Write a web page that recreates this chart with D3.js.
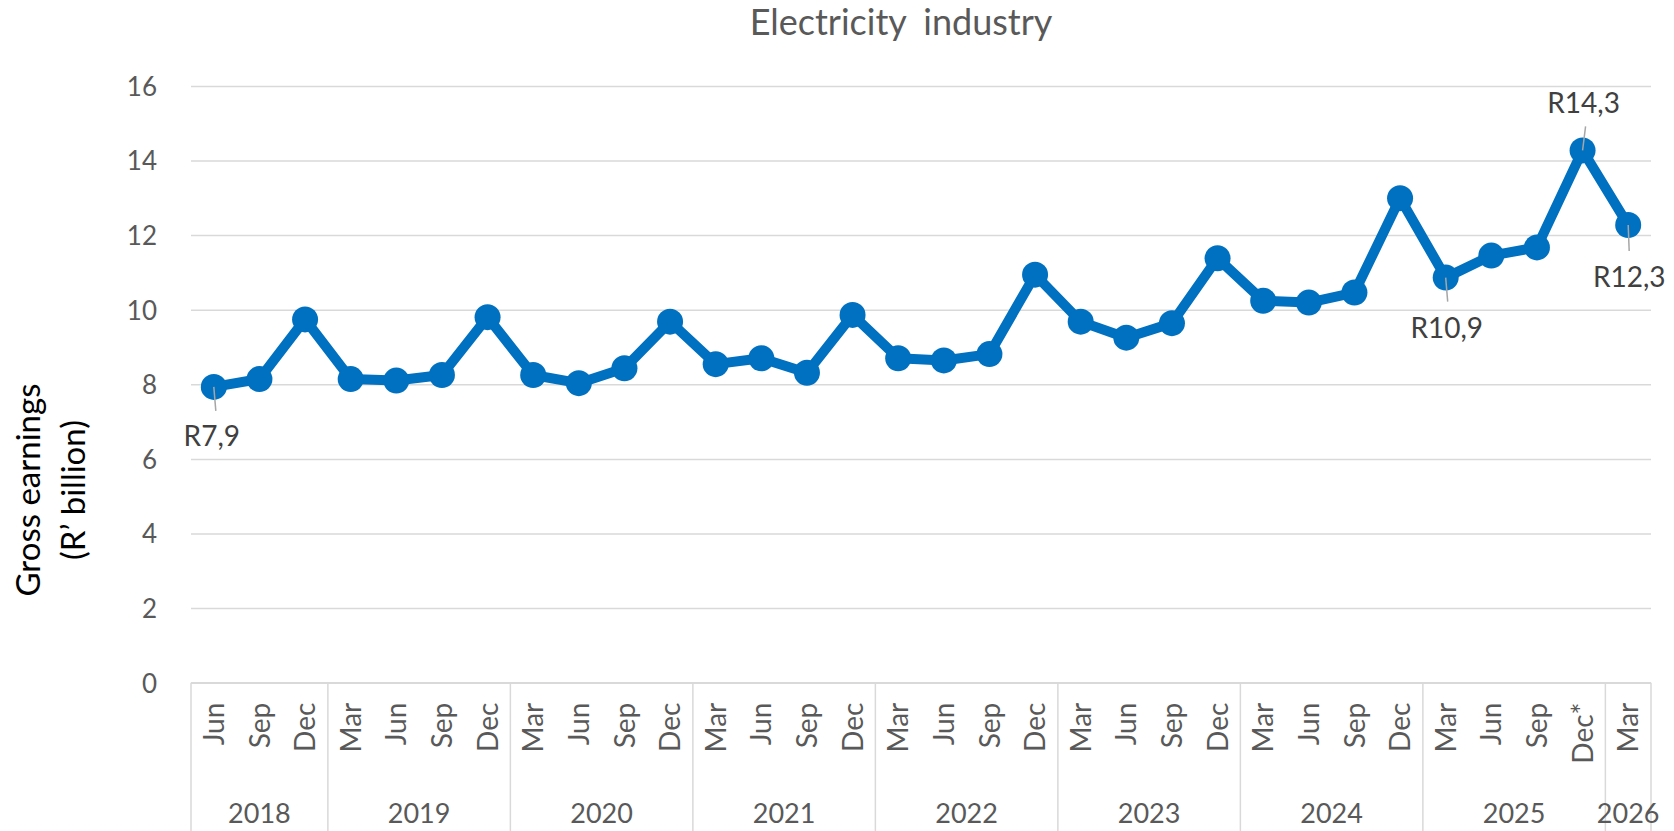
<!DOCTYPE html>
<html>
<head>
<meta charset="utf-8">
<script src="https://cdn.jsdelivr.net/npm/d3@7"></script>
<style>
  body { margin: 0; background: #fff; }
  svg { display: block; font-family: Lato, "Open Sans", sans-serif; }
</style>
</head>
<body>
<div id="chart"></div>
<script>
// Chart values
const months = ["Jun", "Sep", "Dec",
    "Mar", "Jun", "Sep", "Dec",
    "Mar", "Jun", "Sep", "Dec",
    "Mar", "Jun", "Sep", "Dec",
    "Mar", "Jun", "Sep", "Dec",
    "Mar", "Jun", "Sep", "Dec",
    "Mar", "Jun", "Sep", "Dec",
    "Mar", "Jun", "Sep", "Dec*",
    "Mar"];
const yearLabels = ["2018", "2019", "2020", "2021", "2022", "2023", "2024", "2025", "2026"];
const monthsPerYear = [3, 4, 4, 4, 4, 4, 4, 4, 1];
const earnings = [7.93, 8.14, 9.74,
    8.14, 8.10, 8.25, 9.80,
    8.25, 8.03, 8.43, 9.68,
    8.54, 8.70, 8.31, 9.86,
    8.70, 8.64, 8.81, 10.94,
    9.68, 9.25, 9.64, 11.38,
    10.24, 10.19, 10.46, 12.99,
    10.86, 11.45, 11.67, 14.27,
    12.27];
const yTicks = [0, 2, 4, 6, 8, 10, 12, 14, 16];
const labelledPoints = [0, 27, 30, 31];

const width = 1674, height = 831;
const plot = {left: 191, right: 1651, top: 85.9, bottom: 682.7};
const blue = "#0070C0";

// label placement (offsets from the point, and leader line end)
const labelOffsets = {
    0: {dx: -2, dy: 49, lx: 2, ly: 24},
    27: {dx: 1, dy: 50, lx: 2, ly: 24},
    30: {dx: 1, dy: -48, lx: 3, ly: -24},
    31: {dx: 1, dy: 52, lx: 1, ly: 26}
};

let svg = d3.select("#chart")
    .append("svg")
    .attr("width", width)
    .attr("height", height);

let x = d3.scaleBand()
    .domain(d3.range(months.length))
    .range([plot.left, plot.right])
    .padding(0);

let y = d3.scaleLinear()
    .domain([0, 16])
    .range([plot.bottom, plot.top]);

// gridlines
let grid = svg.append("g")
    .attr("transform", `translate(${plot.left}, 0)`)
    .call(d3.axisLeft(y).tickValues(yTicks).tickSize(-(plot.right - plot.left)).tickFormat(""));
grid.select(".domain").remove();
grid.selectAll("line")
    .attr("stroke", "#d9d9d9")
    .attr("stroke-width", 1.5);

// y tick labels
let yAxis = svg.append("g")
    .attr("transform", `translate(${plot.left}, 0)`)
    .call(d3.axisLeft(y).tickValues(yTicks).tickSize(0).tickPadding(34));
yAxis.select(".domain").remove();
yAxis.selectAll("text")
    .attr("fill", "#595959")
    .attr("dy", "0.36em")
    .style("font-size", "26px")
    .style("font-family", "Lato");

// x axis: month labels
let xAxis = svg.append("g")
    .attr("transform", `translate(0, ${plot.bottom})`)
    .call(d3.axisBottom(x).tickSize(0).tickFormat(i => months[i]));
xAxis.select(".domain").remove();
xAxis.selectAll("text")
    .attr("transform", "rotate(-90)")
    .attr("x", -20)
    .attr("y", 0)
    .attr("dy", "0.36em")
    .attr("fill", "#595959")
    .style("text-anchor", "end")
    .style("font-size", "28px")
    .style("font-family", "Lato");

// axis line
svg.append("line")
    .attr("x1", plot.left)
    .attr("x2", plot.right)
    .attr("y1", plot.bottom)
    .attr("y2", plot.bottom)
    .attr("stroke", "#d9d9d9")
    .attr("stroke-width", 1.5);

// year groups
let bounds = [0];
monthsPerYear.forEach(n => bounds.push(bounds[bounds.length - 1] + n));
const edge = i => i < months.length ? x(i) : plot.right;

svg.append("g").selectAll("line")
    .data(bounds)
    .enter()
    .append("line")
    .attr("x1", d => edge(d))
    .attr("x2", d => edge(d))
    .attr("y1", plot.bottom)
    .attr("y2", height)
    .attr("stroke", "#d9d9d9")
    .attr("stroke-width", 1.5);

svg.append("g").selectAll("text")
    .data(yearLabels)
    .enter()
    .append("text")
    .attr("x", (d, i) => (edge(bounds[i]) + edge(bounds[i + 1])) / 2)
    .attr("y", 823)
    .attr("fill", "#595959")
    .style("text-anchor", "middle")
    .style("font-size", "27px")
    .text(d => d);

// series line + markers
const cx = i => x(i) + x.bandwidth() / 2;

svg.append("path")
    .datum(earnings)
    .attr("fill", "none")
    .attr("stroke", blue)
    .attr("stroke-width", 10)
    .attr("stroke-linejoin", "round")
    .attr("d", d3.line().x((d, i) => cx(i)).y(d => y(d)));

svg.append("g").selectAll("circle")
    .data(earnings)
    .enter()
    .append("circle")
    .attr("cx", (d, i) => cx(i))
    .attr("cy", d => y(d))
    .attr("r", 13)
    .attr("fill", blue);

// data labels with leader lines
let labels = svg.append("g");
labelledPoints.forEach(i => {
    const o = labelOffsets[i];
    const px = cx(i), py = y(earnings[i]);
    labels.append("line")
        .attr("x1", px)
        .attr("y1", py)
        .attr("x2", px + o.lx)
        .attr("y2", py + o.ly)
        .attr("stroke", "#a6a6a6")
        .attr("stroke-width", 1.5);
    labels.append("text")
        .attr("x", px + o.dx)
        .attr("y", py + o.dy)
        .attr("dy", "0.36em")
        .attr("fill", "#404040")
        .style("text-anchor", "middle")
        .style("font-size", "28px")
        .text("R" + earnings[i].toFixed(1).replace(".", ","));
});

// title
svg.append("text")
    .attr("x", 901)
    .attr("y", 35)
    .attr("fill", "#595959")
    .style("text-anchor", "middle")
    .style("font-size", "36px")
    .style("word-spacing", "8px")
    .text("Electricity industry");

// y axis title
let yTitle = svg.append("text")
    .attr("transform", `translate(0, 490)rotate(-90)`)
    .attr("fill", "#000")
    .style("text-anchor", "middle")
    .style("font-size", "33px");
yTitle.append("tspan").attr("x", 0).attr("y", 40).text("Gross earnings");
yTitle.append("tspan").attr("x", 0).attr("y", 85).text("(R\u2019 billion)");
</script>
</body>
</html>
